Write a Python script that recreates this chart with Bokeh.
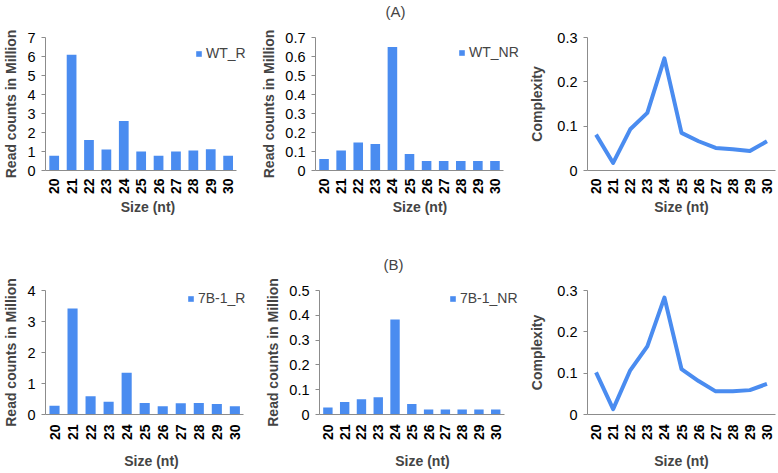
from bokeh.plotting import figure
from bokeh.layouts import column, row
from bokeh.models import (Range1d, FixedTicker, NumeralTickFormatter,
                          Legend, LegendItem, Title)
from bokeh.embed import file_html
from bokeh.resources import INLINE

sizes = [20, 21, 22, 23, 24, 25, 26, 27, 28, 29, 30]

wt_r = [0.78, 6.1, 1.6, 1.1, 2.6, 1.0, 0.78, 1.0, 1.05, 1.12, 0.78]
wt_nr = [0.06, 0.105, 0.148, 0.14, 0.65, 0.087, 0.05, 0.05, 0.05, 0.05, 0.05]
wt_cx = [0.081, 0.017, 0.093, 0.130, 0.253, 0.085, 0.066, 0.051, 0.048, 0.044, 0.066]

b7_r = [0.28, 3.42, 0.59, 0.41, 1.35, 0.37, 0.27, 0.36, 0.37, 0.34, 0.27]
b7_nr = [0.028, 0.05, 0.062, 0.07, 0.383, 0.042, 0.02, 0.02, 0.02, 0.02, 0.02]
b7_cx = [0.102, 0.013, 0.107, 0.165, 0.283, 0.110, 0.081, 0.056, 0.056, 0.059, 0.074]

ticks_wt_r = [0, 1, 2, 3, 4, 5, 6, 7]
ticks_wt_nr = [0, 0.1, 0.2, 0.3, 0.4, 0.5, 0.6, 0.7]
ticks_b7_r = [0, 1, 2, 3, 4]
ticks_b7_nr = [0, 0.1, 0.2, 0.3, 0.4, 0.5]
ticks_cx = [0, 0.1, 0.2, 0.3]

BLUE = "#4a8cf0"
FONT = "Liberation Sans"
AXIS_GRAY = "#8c8c8c"


def make_fig(w, h, left, cat_w, extra, top, bottom, ticks, fmt, ylabel, ylab_standoff,
             x_std, xlab_std, title=None, title_offset=0, spacer=0):
    right = w - left - cat_w - extra
    lo, hi = sizes[0] - 0.5, sizes[-1] + 0.5
    pad = extra * (hi - lo) / cat_w
    p = figure(width=w, height=h, x_range=Range1d(lo, hi + pad),
               y_range=Range1d(0, ticks[-1] * 1.0005), output_backend="svg",
               toolbar_location=None,
               min_border_left=left, min_border_right=right,
               min_border_top=top, min_border_bottom=bottom)
    p.outline_line_color = None
    p.xgrid.visible = False
    p.ygrid.visible = False
    ya = p.yaxis[0]
    ya.ticker = FixedTicker(ticks=ticks)
    ya.formatter = NumeralTickFormatter(format=fmt)
    ya.axis_label = ylabel
    ya.axis_label_text_font = FONT
    ya.axis_label_text_font_style = "bold"
    ya.axis_label_text_font_size = "14px"
    ya.axis_label_standoff = ylab_standoff
    ya.major_label_text_font = FONT
    ya.major_label_text_font_size = "14.5px"
    ya.major_label_text_color = "black"
    ya.major_label_standoff = 6
    ya.major_tick_out = 4
    ya.major_tick_in = 0
    ya.minor_tick_out = 0
    ya.minor_tick_in = 0
    ya.axis_line_color = AXIS_GRAY
    ya.major_tick_line_color = AXIS_GRAY
    xa = p.xaxis[0]
    xa.ticker = FixedTicker(ticks=sizes)
    xa.bounds = (lo, hi)
    xa.axis_label = "Size (nt)"
    xa.axis_label_text_font = FONT
    xa.axis_label_text_font_style = "bold"
    xa.axis_label_text_font_size = "14px"
    xa.axis_label_standoff = xlab_std
    xa.major_label_orientation = 1.5708
    xa.major_label_text_font = FONT
    xa.major_label_text_font_style = "bold"
    xa.major_label_text_font_size = "14px"
    xa.major_label_text_color = "black"
    xa.major_label_standoff = x_std
    xa.major_tick_out = 0
    xa.major_tick_in = 0
    xa.minor_tick_out = 0
    xa.minor_tick_in = 0
    xa.axis_line_color = AXIS_GRAY
    if title:
        p.add_layout(Title(text=" ", text_font_size="%dpx" % spacer, standoff=0), "above")
        p.add_layout(Title(text=title, align="left", offset=title_offset, standoff=0,
                           text_font=FONT, text_font_size="15px",
                           text_font_style="normal"), "above")
    return p


def add_bars(p, vals, name, loc):
    r = p.vbar(x=sizes, top=vals, width=0.56, color=BLUE, line_color=None)
    leg = Legend(items=[LegendItem(label=name, renderers=[r])], location=loc,
                 padding=0, margin=0, glyph_width=7, glyph_height=7, label_height=18,
                 label_width=70, label_standoff=4, border_line_color=None,
                 background_fill_alpha=0,
                 label_text_font=FONT, label_text_font_size="14px")
    p.add_layout(leg, "center")


def add_line(p, vals):
    p.line(x=sizes, y=vals, line_color=BLUE, line_width=4, line_join="round")


# row 1 (height 230): frames from y=34 to y=170
p1 = make_fig(258, 230, 40, 196, 14, 34, 60, ticks_wt_r, "0",
              "Read counts in Million", 5, 8, 2)
add_bars(p1, wt_r, "WT_R", (150, 108))
p2 = make_fig(268, 230, 47, 197, 22, 34, 60, ticks_wt_nr, "0.[0]",
              "Read counts in Million", 5, 8, 2, "(A)", 70, 14)
add_bars(p2, wt_nr, "WT_NR", (143, 109))
p3 = make_fig(251, 230, 58, 191, 0, 34, 60, ticks_cx, "0.[0]", "Complexity", 9, 8, 2)
add_line(p3, wt_cx)

# row 2 (height 242): frames from y=290 to y=424
p4 = make_fig(262, 242, 39, 204, 14, 60, 48, ticks_b7_r, "0",
              "Read counts in Million", 5, 10, 10)
add_bars(p4, b7_r, "7B-1_R", (142, 107))
p5 = make_fig(264, 242, 51, 190, 22, 60, 48, ticks_b7_nr, "0.[0]",
              "Read counts in Million", 5, 10, 10, "(B)", 64, 14)
add_bars(p5, b7_nr, "7B-1_NR", (130, 107))
p6 = make_fig(251, 242, 57, 192, 0, 60, 48, ticks_cx, "0.[0]", "Complexity", 9, 10, 10)
add_line(p6, b7_cx)

layout = column(row(p1, p2, p3), row(p4, p5, p6))
open("out.html", "w").write(file_html(layout, INLINE))
